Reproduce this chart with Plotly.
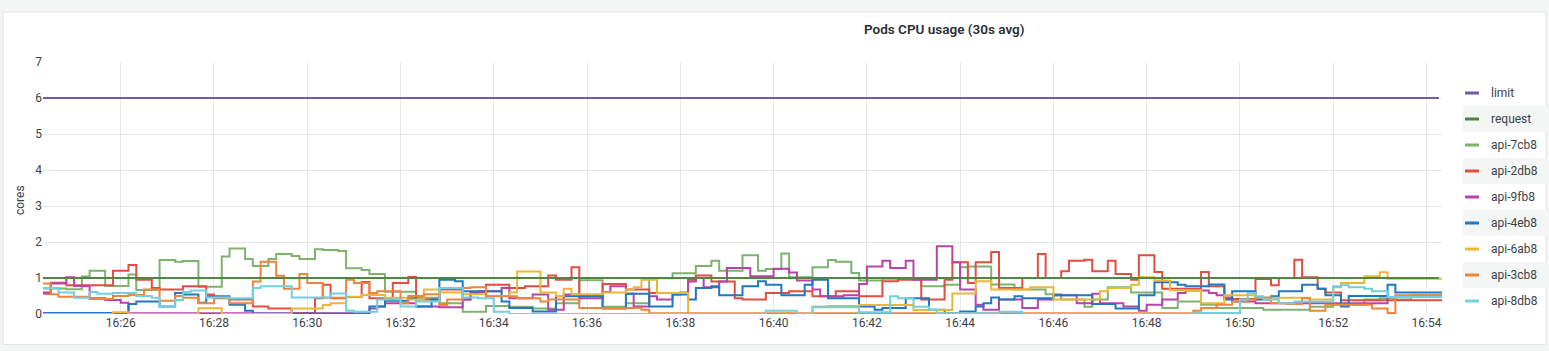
import plotly.graph_objects as go
from datetime import datetime, timedelta

# ---------------- data ----------------
title_text = "Pods CPU usage (30s avg)"
y_title = "cores"
start_time = datetime(2024, 1, 1, 16, 24, 20)
end_time = datetime(2024, 1, 1, 16, 54, 20)
sample_seconds = 10

limit_value = 6
request_value = 1

series_names = [
    "limit", "request",
    "api-7cb8", "api-2db8", "api-9fb8", "api-4eb8", "api-6ab8", "api-3cb8", "api-8db8",
]
series_colors = ["#705da0", "#508642", "#7eb26d", "#e24d42", "#ba43a9",
                 "#1f78c1", "#eab839", "#ef843c", "#6ed0e0"]

pod_green = [
    0.71,0.71,0.71,0.69,0.69,1.04,1.2,1.2,0.78,0.78,
    0.78,1.1,0.67,0.67,0.67,1.5,1.5,1.45,1.47,1.47,
    0.76,0.76,0.76,1.6,1.82,1.82,1.53,1.33,1.33,1.53,
    1.67,1.67,1.61,1.53,1.53,1.8,1.78,1.78,1.75,1.27,
    1.27,1.22,1.11,1.11,0.62,0.62,0.62,0.62,0.45,0.45,
    0.45,0.3,0.3,0.3,0.06,0.06,0.06,0.22,0.22,0.22,
    0.2,0.2,0.2,0.15,0.15,0.15,0.3,0.3,0.3,0.94,
    0.94,0.94,0.2,0.2,0.2,0.3,0.3,0.3,0.99,0.99,
    0.99,1.13,1.13,1.13,1.33,1.33,1.48,1.2,1.2,1.2,
    1.63,1.63,1.2,1.25,1.25,1.68,1.02,1.02,1.02,1.3,
    1.3,1.5,1.45,1.45,1.14,0.93,0.93,0.93,0.98,0.98,
    0.98,0.98,0.98,0.77,0.77,0.77,0.81,0.81,1.3,1.32,
    1.32,1.32,0.82,0.82,0.82,0.68,0.68,0.68,0.68,0.55,
    0.55,0.4,0.4,0.4,0.2,0.4,0.4,0.74,0.74,0.74,
    0.6,0.6,0.6,0.6,0.17,0.17,0.35,0.35,0.35,0.26,
    0.26,0.17,0.17,0.17,0.17,0.17,0.17,0.12,0.12,0.12,
    0.12,0.12,0.12,0.2,0.2,0.2,0.26,0.26,0.26,0.26,
    0.4,0.4,0.44,0.44,0.4,0.4,0.52,0.52,0.52,0.52,
]
pod_red = [
    0.56,0.87,0.87,0.8,0.8,0.8,0.8,0.8,0.8,1.2,
    1.2,1.36,0.95,0.95,0.72,0.68,0.68,0.68,0.77,0.77,
    0.77,0.54,0.44,0.44,0.4,0.4,0.4,0.21,0.21,0.15,
    0.15,0.15,0.03,0.03,0.03,0.44,0.81,0.44,0.44,0.47,
    0.47,0.89,0.44,0.44,0.44,0.86,0.86,1.03,0.4,0.4,
    0.4,0.68,0.68,0.68,0.4,0.6,0.6,0.81,0.81,0.81,
    0.72,0.72,0.77,0.77,0.77,1.07,0.95,0.95,1.3,0.5,
    0.5,0.5,0.83,0.83,0.83,0.68,0.68,0.68,0.58,0.58,
    0.58,0.58,0.58,0.95,1.07,1.07,0.9,0.9,0.9,0.44,
    0.4,0.4,0.4,0.58,0.58,0.58,0.63,0.63,0.63,0.49,
    0.49,0.49,0.63,0.63,0.63,0.49,0.49,0.49,0.91,0.91,
    0.95,0.95,0.95,0.4,0.4,0.4,0.95,1.44,1.44,0.86,
    1.44,1.44,1.72,0.72,0.72,0.72,1.0,1.0,1.67,1.0,
    1.0,1.19,1.48,1.48,1.51,1.19,1.19,1.48,1.11,1.11,
    0.95,1.63,1.63,1.17,0.7,0.7,0.7,0.7,0.7,1.17,
    0.77,0.77,0.42,0.42,0.42,0.42,0.97,0.97,0.8,1.0,
    1.0,1.51,1.02,1.02,0.7,0.6,0.6,0.38,0.38,0.38,
    0.38,0.38,0.38,0.38,0.38,0.38,0.38,0.38,0.38,0.38,
]
pod_magenta = [
    0.6,0.85,0.85,1.02,0.78,0.78,0.44,0.44,0.39,0.39,
    0.31,0.02,0.02,0.02,0.02,0.02,0.02,0.02,0.02,0.02,
    0.02,0.02,0.02,0.02,0.02,0.02,0.02,0.02,0.02,0.02,
    0.02,0.02,0.02,0.02,0.02,0.02,0.02,0.02,0.02,0.02,
    0.02,0.02,0.15,0.21,0.3,0.3,0.3,0.3,0.21,0.21,
    0.21,0.19,0.19,0.19,0.4,0.58,0.63,0.63,0.63,0.72,
    0.44,0.44,0.44,0.54,0.54,0.12,0.12,0.54,0.54,0.44,
    0.44,0.44,0.61,0.77,0.77,0.56,0.21,0.21,0.49,0.4,
    0.4,0.54,0.6,0.9,1.0,0.74,0.74,0.9,1.28,1.28,
    1.28,1.05,1.05,1.05,1.26,1.26,1.15,0.93,0.93,0.68,
    0.49,0.49,0.49,0.52,0.52,0.83,1.32,1.32,1.48,1.28,
    1.28,1.48,0.95,0.95,0.95,1.88,1.88,1.44,0.68,0.68,
    0.26,0.12,0.12,0.4,0.4,0.4,0.17,0.17,0.4,0.4,
    0.52,0.52,0.52,0.3,0.3,0.56,0.3,0.3,0.3,0.21,
    0.21,0.09,0.26,0.26,0.4,0.4,0.58,0.65,0.65,0.65,
    0.58,0.52,0.46,0.35,0.35,0.35,0.3,0.3,0.3,0.3,
    0.3,0.3,0.3,0.3,0.3,0.3,0.3,0.3,0.3,0.3,
    0.3,0.3,0.3,0.47,0.47,0.47,0.47,0.47,0.47,0.47,
]
pod_blue = [
    0.03,0.03,0.03,0.03,0.03,0.03,0.03,0.03,0.03,0.03,
    0.03,0.28,0.35,0.35,0.35,0.21,0.21,0.58,0.54,0.54,
    0.31,0.49,0.49,0.49,0.26,0.26,0.09,0.01,0.01,0.01,
    0.01,0.01,0.01,0.01,0.01,0.01,0.01,0.01,0.01,0.01,
    0.01,0.01,0.21,0.21,0.37,0.37,0.37,0.44,0.21,0.21,
    0.4,0.95,0.95,0.91,0.63,0.63,0.63,0.63,0.63,0.35,
    0.17,0.17,0.17,0.07,0.07,0.07,0.49,0.49,0.49,0.49,
    0.49,0.49,0.15,0.15,0.15,0.56,0.56,0.56,0.21,0.21,
    0.21,0.54,0.54,0.4,0.72,0.72,0.77,0.52,0.52,0.52,
    0.77,0.77,0.91,0.81,0.81,0.52,0.52,0.52,0.81,0.95,
    0.95,0.44,0.44,0.44,0.44,0.21,0.21,0.12,0.17,0.17,
    0.17,0.44,0.44,0.44,0.12,0.12,0.03,0.03,0.07,0.07,
    0.21,0.3,0.46,0.4,0.4,0.49,0.44,0.44,0.44,0.44,
    0.52,0.52,0.52,0.52,0.52,0.28,0.28,0.28,0.15,0.15,
    0.15,0.52,0.52,0.88,0.88,0.88,0.81,0.77,0.77,0.77,
    0.82,0.82,0.4,0.63,0.63,0.63,0.4,0.4,0.49,0.63,
    0.63,0.63,0.81,0.81,0.7,0.52,0.52,0.21,0.5,0.5,
    0.5,0.5,0.5,0.81,0.6,0.6,0.6,0.6,0.6,0.6,
]
pod_yellow = [
    0,0,0,0,0,0,0,0,0,0.05,
    0.05,0,0,0,0,0,0,0,0,0,
    0.16,0.16,0.16,0,0,0,0,0,0,0,
    0,0,0.15,0.15,0.15,0.15,0.25,0.3,0.3,0.48,
    0.48,0.53,0.53,0.53,0.45,0.45,0.45,0.4,0.4,0.68,
    0.68,0.6,0.6,0.6,0.55,0.55,0.55,0.5,0.5,0.5,
    0.6,1.18,1.18,1.18,0.6,0.6,0.5,0.7,0.55,0.55,
    0.55,0.55,0.6,0.6,0.6,0.68,0.74,0.95,0.95,0.58,
    0.58,0.58,0.58,0,0,0,0,0,0,0,
    0,0,0,0,0,0,0,0,0,0.21,
    0.21,0.22,0.22,0.22,0.22,0.25,0.25,0.25,0.25,0.25,
    0.25,0.25,0.11,0.11,0.11,0.11,0.11,0.57,0.57,0.57,
    0.91,0.91,0.68,0.68,0.68,0.68,0.68,0.74,0.74,0.74,
    0.4,0.4,0.4,0.4,0.4,0.4,0.63,0.72,0.72,0.72,
    0.81,1.02,1.02,0.93,0.93,0.66,0.66,0.66,0.66,0.3,
    0.3,0.3,0.52,0.52,0.52,0.52,0.45,0.45,0.45,0.45,
    0.45,0.45,0.45,0.4,0.4,0.4,0.74,0.86,0.86,0.86,
    1.05,1.05,1.16,0.98,0.98,0.98,0.98,0.98,0.98,0.98,
]
pod_orange = [
    0.85,0.55,0.48,0.48,0.48,0.48,0.42,0.42,0.42,0.5,
    0.5,0.53,0.53,0.68,0.68,0.37,0.37,0.5,0.45,0.45,
    0.3,0.3,0.45,0.45,0.3,0.3,0.3,0.9,1.45,1.45,
    1.06,0.7,0.7,1.11,0.86,0.86,0.45,0.45,0.45,0.95,
    0.86,0.86,0.58,0.63,0.63,0.63,0.3,0.5,0.5,0.55,
    0.55,0.25,0.4,0.4,0.72,0.74,0.74,0.49,0.49,0.49,
    0.49,0.44,0.44,0.44,0.35,0.4,0.4,0.4,0.4,0.17,
    0.17,0.17,0.17,0.17,0.17,0.17,0.17,0.12,0.02,0.02,
    0.02,0.02,0.02,0.02,0.02,0.02,0.02,0.02,0.02,0.02,
    0.02,0.02,0.02,0.02,0.02,0.02,0.02,0.02,0.02,0.02,
    0.02,0.02,0.02,0.02,0.02,0.02,0.02,0.02,0.02,0.02,
    0.02,0.02,0.02,0.02,0.02,0.02,0.02,0.02,0.02,0.02,
    0.02,0.02,0.02,0.02,0.02,0.02,0.02,0.02,0.02,0.02,
    0.02,0.02,0.02,0.02,0.02,0.02,0.02,0.02,0.02,0.02,
    0.02,0.02,0.02,0.02,0.02,0.02,0.02,0.02,0.09,0.17,
    0.17,0.26,0.26,0.35,0.35,0.4,0.46,0.46,0.3,0.3,
    0.28,0.28,0.44,0.09,0.09,0.26,0.26,0.26,0.26,0.26,
    0.26,0.15,0.15,0.03,0.52,0.52,0.52,0.52,0.52,0.52,
]
pod_cyan = [
    0.72,0.72,0.6,0.6,0.45,0.45,0.61,0.56,0.56,0.58,
    0.58,0.58,0.5,0.5,0.45,0.21,0.21,0.39,0.61,0.65,
    0.65,0.46,0.46,0.46,0.44,0.44,0.44,0.72,0.77,0.77,
    0.77,0.77,0.46,0.46,0.46,0.46,0.46,0.57,0.57,0.09,
    0.06,0.06,0.06,0.4,0.4,0.4,0.21,0.21,0.35,0.35,
    0.35,0.72,0.72,0.72,0.46,0.46,0.44,0.44,0.06,0.06,
    0,0,0,0,0,0,0,0,0,0,
    0,0,0,0,0,0,0,0,0,0,
    0,0,0,0,0,0,0,0,0,0,
    0,0,0,0.09,0.09,0.09,0.09,0,0,0.19,
    0.19,0.19,0.19,0.19,0.19,0.05,0.05,0.05,0.05,0.49,
    0.44,0.44,0.2,0.2,0.12,0.02,0.02,0.02,0.02,0.02,
    0.02,0.02,0.02,0.06,0.06,0.06,0,0,0,0,
    0,0,0,0,0,0,0,0,0,0,
    0,0,0,0,0,0,0,0,0.03,0.03,
    0.03,0.03,0.03,0.03,0.4,0.58,0.49,0.4,0.4,0.3,
    0.3,0.35,0.35,0.35,0.35,0.35,0.77,0.8,0.74,0.74,
    0.7,0.63,0.63,0.47,0.47,0.47,0.47,0.47,0.47,0.47,
]

pod_series = [pod_green, pod_red, pod_magenta, pod_blue, pod_yellow, pod_orange, pod_cyan]

# ---------------- figure geometry (pixels) ----------------
W, H = 1549, 351
PL, PR, PT, PB = 43, 1442, 62, 314   # plot area edges


def px_x(px):
    return (px - PL) / (PR - PL)


def px_y(py):
    return (PB - py) / (PB - PT)


times = [start_time + timedelta(seconds=sample_seconds * i) for i in range(len(pod_green) + 1)]

fig = go.Figure()
for name, color, vals in zip(series_names[2:], series_colors[2:], pod_series):
    fig.add_trace(go.Scatter(
        x=times, y=vals + [vals[-1]], mode="lines", name=name,
        line=dict(shape="hv", width=2, color=color), showlegend=False,
        hoverinfo="skip"))

line_end = end_time - timedelta(seconds=4)
fig.add_trace(go.Scatter(x=[start_time, line_end], y=[limit_value, limit_value],
                         mode="lines", name=series_names[0],
                         line=dict(width=2.2, color=series_colors[0]), showlegend=False))
fig.add_trace(go.Scatter(x=[start_time, line_end], y=[request_value, request_value],
                         mode="lines", name=series_names[1],
                         line=dict(width=2.2, color=series_colors[1]), showlegend=False))

text_color = "#3d4147"
font_family = "Roboto, 'Noto Sans', sans-serif"

shapes = []
annotations = []

# panel background
shapes.append(dict(type="rect", xref="paper", yref="paper", layer="below",
                   x0=px_x(3), x1=px_x(1546), y0=px_y(344.5), y1=px_y(12),
                   fillcolor="#ffffff", line=dict(color="#e1e3e6", width=1)))

# custom legend
row_y0 = 93
row_h = 26
for k, (name, color) in enumerate(zip(series_names, series_colors)):
    cy = row_y0 + row_h * k
    if k % 2 == 1:
        shapes.append(dict(type="rect", xref="paper", yref="paper", layer="below",
                           x0=px_x(1463), x1=px_x(1552), y0=px_y(cy + 13), y1=px_y(cy - 13),
                           fillcolor="#f4f5f5", line=dict(width=0)))
    shapes.append(dict(type="rect", xref="paper", yref="paper", layer="above",
                       x0=px_x(1465), x1=px_x(1479), y0=px_y(cy + 1.5), y1=px_y(cy - 1.5),
                       fillcolor=color, line=dict(width=0)))
    annotations.append(dict(text=name, xref="paper", yref="paper",
                            x=px_x(1489), y=px_y(cy), xanchor="left", yanchor="middle",
                            showarrow=False, font=dict(size=12, color=text_color, family=font_family)))

# title
annotations.append(dict(text=title_text, xref="paper", yref="paper",
                        x=px_x(944), y=px_y(29), xanchor="center", yanchor="middle",
                        showarrow=False,
                        font=dict(size=13.5, color="#2b2e33", family=font_family, weight=600)))
# y-axis title
annotations.append(dict(text=y_title, xref="paper", yref="paper",
                        x=px_x(20), y=px_y(200), xanchor="center", yanchor="middle",
                        textangle=-90, showarrow=False,
                        font=dict(size=12, color=text_color, family=font_family)))

fig.update_layout(
    width=W, height=H,
    margin=dict(l=PL, r=W - PR, t=PT, b=H - PB),
    paper_bgcolor="#f4f5f5",
    plot_bgcolor="#ffffff",
    font=dict(family=font_family, size=12, color=text_color),
    showlegend=False,
    shapes=shapes,
    annotations=annotations,
    xaxis=dict(
        type="date", range=[start_time, end_time],
        dtick=120000, tickformat="%H:%M",
        showgrid=True, gridcolor="#e8e8e8", gridwidth=1,
        zeroline=False, showline=False, ticks="",
        tickfont=dict(size=12, color=text_color),
    ),
    yaxis=dict(
        range=[0, 7], dtick=1, tick0=0,
        showgrid=True, gridcolor="#e8e8e8", gridwidth=1,
        zeroline=False, showline=False, ticks="",
        tickfont=dict(size=12, color=text_color),
    ),
)

fig.write_html("out.html", config={"displayModeBar": False})
